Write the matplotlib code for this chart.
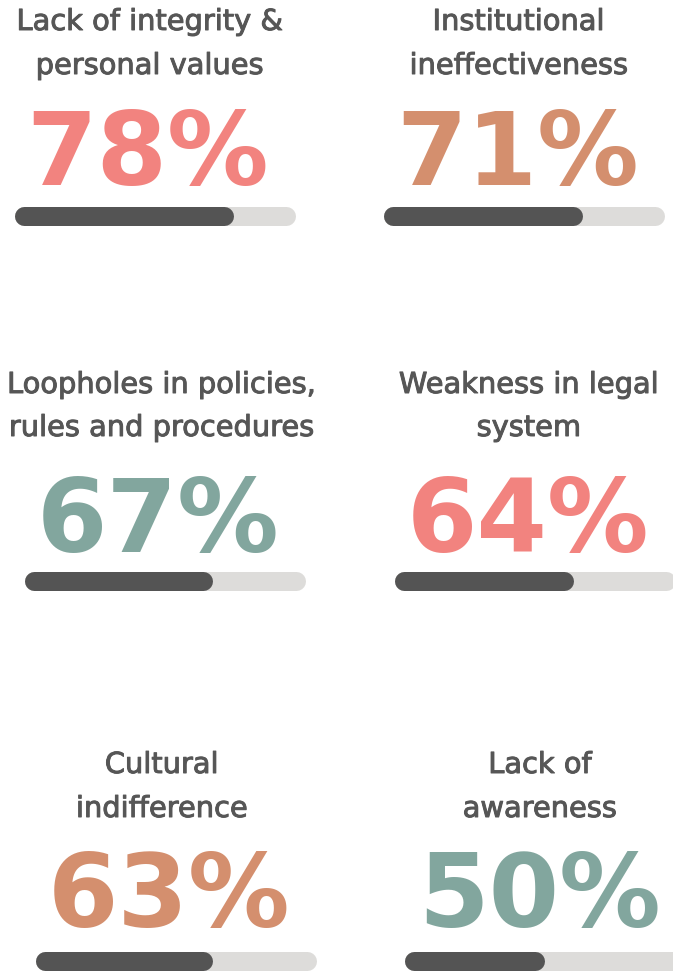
import matplotlib
matplotlib.use("Agg")
import matplotlib.pyplot as plt
import matplotlib.patheffects as pe

# survey results: causes and share of respondents
causes = [
    "Lack of integrity &\npersonal values",
    "Institutional\nineffectiveness",
    "Loopholes in policies,\nrules and procedures",
    "Weakness in legal\nsystem",
    "Cultural\nindifference",
    "Lack of\nawareness",
]
percent = [78, 71, 67, 64, 63, 50]
number_colors = ["#F2837F", "#D48F6E", "#82A69E", "#F2837F", "#D48F6E", "#82A69E"]

W, H = 673, 973
DARK = "#545454"
TRACK = "#DDDCDA"
TEXT = "#565656"

# pixel layout of each tile: title centre x, percent centre x, bar left x
title_x = [150, 519, 162, 529, 162, 540]
num_x = [148, 518, 158, 528, 169, 540]
bar_x = [14, 383, 24, 394, 35, 404]
row_title_base = [(30, 74), (393, 436), (773, 817)]
row_num_base = [185, 552, 927]
row_bar_y = [216, 581, 961]
bar_len, bar_h = 281, 19

fig = plt.figure(figsize=(W / 100, H / 100), dpi=100)
fig.patch.set_facecolor("white")

# slightly heavier strokes for the title text
thicken = [pe.withStroke(linewidth=0.7, foreground=TEXT)]


def fx(x):
    return x / W


def fy(y):
    return 1 - y / H


for i, (name, val, col) in enumerate(zip(causes, percent, number_colors)):
    row = i // 2
    for line, base in zip(name.split("\n"), row_title_base[row]):
        fig.text(fx(title_x[i]), fy(base), line, ha="center", va="baseline",
                 fontsize=20.8, family="DejaVu Sans", color=TEXT,
                 path_effects=thicken)
    fig.text(fx(num_x[i]), fy(row_num_base[row]), f"{val}%", ha="center",
             va="baseline", fontsize=73, family="DejaVu Sans", fontweight="bold",
             color=col)

    # progress bar on its own 0-100 axis, round caps
    ax = fig.add_axes([fx(bar_x[i]), fy(row_bar_y[row] + bar_h / 2),
                       bar_len / W, bar_h / H])
    ax.set_xlim(0, 100)
    ax.set_ylim(-1, 1)
    ax.axis("off")
    r = bar_h / 2 / bar_len * 100
    lw = bar_h * 72 / 100
    ax.plot([r, 100 - r], [0, 0], color=TRACK, lw=lw, solid_capstyle="round",
            clip_on=False)
    ax.plot([r, val - r], [0, 0], color=DARK, lw=lw, solid_capstyle="round",
            clip_on=False)

fig.savefig("out.png", dpi=100, facecolor="white")
